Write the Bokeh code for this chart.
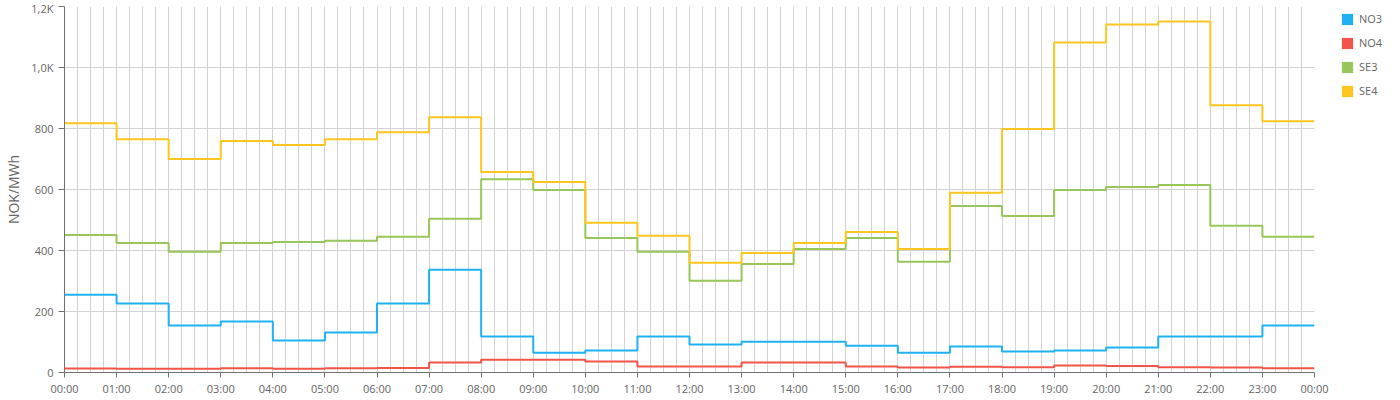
from bokeh.plotting import figure
from bokeh.models import FixedTicker, Legend, LegendItem, Range1d
from bokeh.layouts import row
from bokeh.embed import file_html
from bokeh.resources import INLINE

hours = list(range(24))
hour_labels = [f"{h:02d}:00" for h in range(24)] + ["00:00"]

series_names = ["NO3", "NO4", "SE3", "SE4"]
colors = ["#1fb1f1", "#f2544a", "#99c65a", "#fdc520"]

no3 = [255, 226, 154, 167, 105, 131, 226, 337, 118, 65, 72, 118,
       92, 101, 101, 88, 65, 85, 69, 72, 82, 118, 118, 154]
no4 = [13, 12, 12, 14, 12, 14, 15, 33, 42, 42, 36, 20,
       20, 33, 33, 20, 16, 19, 17, 23, 21, 17, 16, 14]
se3 = [451, 425, 396, 425, 428, 432, 445, 504, 634, 598, 441, 396,
       301, 356, 405, 441, 363, 546, 513, 598, 608, 615, 481, 445]
se4 = [817, 765, 700, 759, 746, 765, 788, 837, 657, 625, 491, 448,
       360, 392, 425, 461, 405, 589, 798, 1082, 1141, 1151, 876, 824]

y_ticks = [0, 200, 400, 600, 800, 1000, 1200]
y_labels = ["0", "200", "400", "600", "800", "1,0K", "1,2K"]

FONT = "Open Sans"
GRAY = "#666666"
H = 398
W_MAIN = 1335

p = figure(width=W_MAIN, height=H, output_backend="svg", toolbar_location=None,
           x_range=Range1d(0, 24), y_range=Range1d(0, 1200),
           min_border_left=64, min_border_right=21, min_border_top=6,
           min_border_bottom=22)
p.outline_line_color = None

# axes
p.xaxis.ticker = FixedTicker(ticks=list(range(25)),
                             minor_ticks=[i * 0.25 for i in range(97)])
p.xaxis.major_label_overrides = {i: lab for i, lab in enumerate(hour_labels)}
p.yaxis.ticker = FixedTicker(ticks=y_ticks)
p.yaxis.major_label_overrides = {t: l for t, l in zip(y_ticks, y_labels)}
p.yaxis.axis_label = "NOK/MWh"
for ax in (p.xaxis[0], p.yaxis[0]):
    ax.axis_line_color = "#707070"
    ax.major_tick_line_color = "#707070"
    ax.major_tick_out = 6
    ax.major_tick_in = 0
    ax.minor_tick_line_color = None
    ax.major_label_text_color = GRAY
    ax.major_label_text_font = FONT
    ax.major_label_text_font_size = "11px"
p.xaxis.major_tick_out = 5
p.xaxis.major_label_standoff = 3
p.yaxis.major_label_standoff = 5
p.yaxis.axis_label_text_font = FONT
p.yaxis.axis_label_text_font_size = "14px"
p.yaxis.axis_label_text_font_style = "normal"
p.yaxis.axis_label_text_color = GRAY
p.yaxis.axis_label_standoff = 5

# grids
p.xgrid.grid_line_color = "#d3d3d3"
p.xgrid.minor_grid_line_color = "#d3d3d3"
p.ygrid.grid_line_color = "#d3d3d3"

# step lines
xs = hours + [24]
for name, vals, col in zip(series_names, [no3, no4, se3, se4], colors):
    p.step(xs, vals + [vals[-1]], mode="after", line_color=col, line_width=2)

# legend panel as a separate small figure
lf = figure(width=1384 - W_MAIN, height=H, output_backend="svg", toolbar_location=None,
            x_axis_type=None, y_axis_type=None,
            x_range=Range1d(0, 1), y_range=Range1d(0, 1),
            min_border_left=0, min_border_right=0, min_border_top=0,
            min_border_bottom=0)
lf.outline_line_color = None
lf.xgrid.visible = False
lf.ygrid.visible = False

nan = float("nan")
items = []
for name, col in zip(series_names, colors):
    r = lf.quad(left=[nan], right=[nan], top=[nan], bottom=[nan],
                fill_color=col, line_color=None)
    items.append(LegendItem(label=name, renderers=[r]))

legend = Legend(items=items, location="top_left", orientation="vertical",
                glyph_width=14, glyph_height=14, label_height=14, spacing=9,
                padding=0, margin=5, label_standoff=5,
                border_line_color=None, background_fill_alpha=0,
                label_text_font=FONT, label_text_font_size="11px",
                label_text_color=GRAY)
lf.add_layout(legend, "center")

open("out.html", "w").write(file_html(row(p, lf), INLINE))
